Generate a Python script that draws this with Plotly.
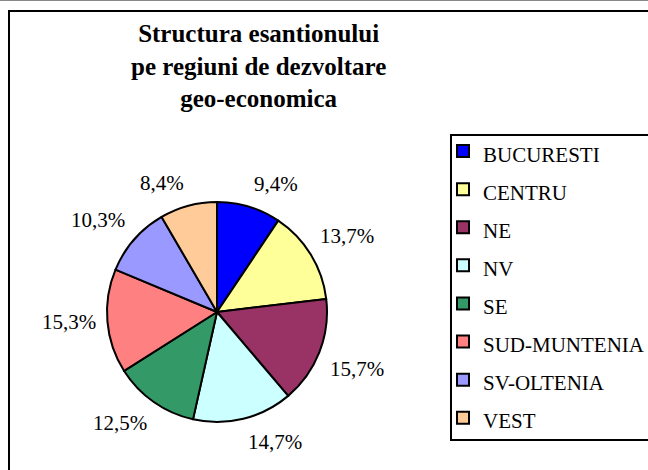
import math
import plotly.graph_objects as go

# ---- data ----
regions = ["BUCURESTI", "CENTRU", "NE", "NV", "SE", "SUD-MUNTENIA", "SV-OLTENIA", "VEST"]
shares = [9.4, 13.7, 15.7, 14.7, 12.5, 15.3, 10.3, 8.4]
colors = ["#0000FF", "#FFFF99", "#993366", "#CCFFFF", "#339966", "#FF8080", "#9999FF", "#FFCC99"]
title_lines = ["Structura esantionului", "pe regiuni de dezvoltare", "geo-economica"]

# ---- layout constants (pixels) ----
W, H = 648, 470
CX, CY, R = 217, 312, 110
FONT = "Liberation Serif"


def px(x):
    return x / W


def py(y):
    return 1 - y / H


legend_labels = ['<span style="font-size:21px">%s</span>' % r for r in regions]

fig = go.Figure(go.Pie(
    labels=legend_labels,
    values=shares,
    marker=dict(colors=colors, line=dict(color="black", width=2)),
    sort=False,
    direction="clockwise",
    rotation=0,
    textinfo="none",
    hoverinfo="skip",
    domain=dict(x=[px(CX - R), px(CX + R)], y=[py(CY + R), py(CY - R)]),
))

# percentage labels placed outside slices, derived from the values
annotations = []
total = sum(shares)
cum = 0.0
D = 119
for v in shares:
    mid = (cum + v / 2) / total * 2 * math.pi
    cum += v
    s, c = math.sin(mid), math.cos(mid)
    ax = CX + D * s
    ay = CY - D * c
    xa = "left" if s > 0.1 else ("right" if s < -0.1 else "center")
    ya = "bottom" if c > 0.1 else ("top" if c < -0.1 else "middle")
    annotations.append(dict(
        x=px(ax), y=py(ay), xref="paper", yref="paper",
        text=("%.1f%%" % v).replace(".", ","),
        showarrow=False, xanchor=xa, yanchor=ya,
        font=dict(family=FONT, size=21, color="black"),
    ))

annotations.append(dict(
    x=px(258), y=py(66), xref="paper", yref="paper",
    text="<br>".join("<b>%s</b>" % t for t in title_lines),
    showarrow=False, xanchor="center", yanchor="middle",
    font=dict(family=FONT, size=25, color="black"),
))

shapes = [
    dict(type="line", xref="paper", yref="paper", x0=0, x1=1, y0=py(0.5), y1=py(0.5),
         line=dict(color="#888888", width=1)),
    dict(type="rect", xref="paper", yref="paper", x0=px(9), x1=px(W + 20), y0=py(H + 20), y1=py(11),
         line=dict(color="black", width=2)),
    # legend frame
    dict(type="rect", xref="paper", yref="paper", x0=px(451), x1=px(W + 20), y0=py(440), y1=py(135),
         line=dict(color="black", width=2)),
]

fig.update_layout(
    width=W, height=H,
    margin=dict(l=0, r=0, t=0, b=0, autoexpand=False),
    paper_bgcolor="white", plot_bgcolor="white",
    showlegend=True,
    legend=dict(
        x=px(443), y=py(127), xanchor="left", yanchor="top",
        borderwidth=0, bgcolor="rgba(0,0,0,0)",
        font=dict(family=FONT, size=27, color="black"),
        traceorder="normal",
    ),
    annotations=annotations,
    shapes=shapes,
)

fig.write_html("out.html", config={"displayModeBar": False},
               post_script="document.body.style.margin='0';")
